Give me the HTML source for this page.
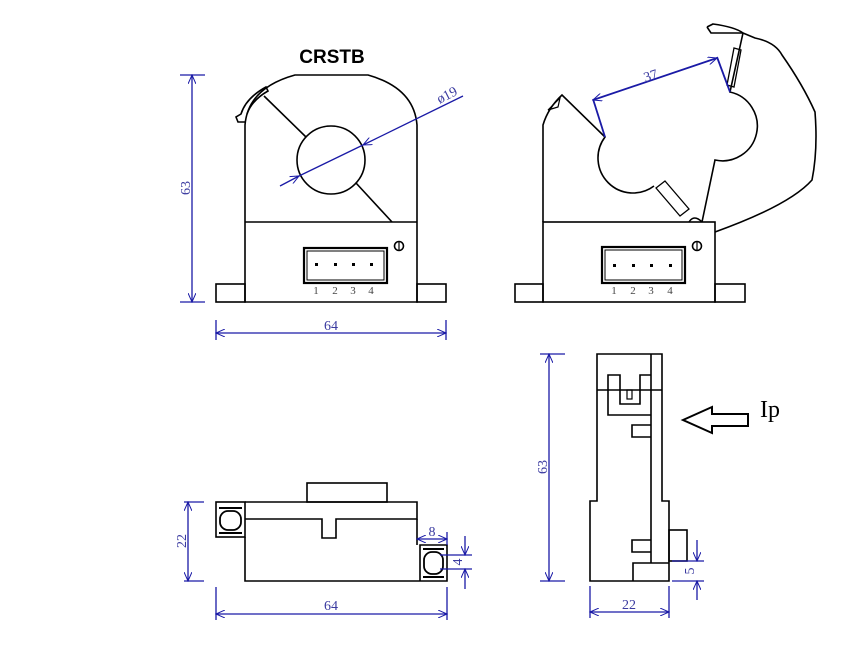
<!DOCTYPE html>
<html><head><meta charset="utf-8"><style>html,body{margin:0;padding:0;background:#fff}svg{display:block}</style></head><body>
<svg width="866" height="658" viewBox="0 0 866 658" xmlns="http://www.w3.org/2000/svg">
<defs>
<marker id="a" markerWidth="10" markerHeight="8" refX="9" refY="4" orient="auto-start-reverse" markerUnits="userSpaceOnUse"><path d="M0,0 L9,4 L0,8" fill="none" stroke="#1a1aa6" stroke-width="1"/></marker>
</defs>
<rect width="866" height="658" fill="#fff"/>
<text x="332" y="63" text-anchor="middle" font-family="Liberation Sans, sans-serif" font-weight="bold" font-size="19" fill="#000">CRSTB</text>

<g fill="none" stroke="#000" stroke-width="1.6">
<!-- front view -->
<path d="M245,302 L245,125 Q248,88 295,75 L368,75 Q414,88 417,125 L417,302 Z"/>
<line x1="245" y1="222" x2="417" y2="222"/>
<rect x="216" y="284" width="29" height="18"/>
<rect x="417" y="284" width="29" height="18"/>
<circle cx="331" cy="160" r="34"/>
<line x1="264" y1="96" x2="306" y2="137"/>
<line x1="356" y1="183" x2="392" y2="222"/>
<path d="M245,122 L238,122 L236,117 L241,114 Q246,98 266,87 L268,91 Q252,100 247,114"/>
<rect x="304" y="248" width="83" height="35" stroke-width="2.2"/>
<rect x="307" y="251" width="77" height="29" stroke-width="1"/>
<circle cx="399" cy="246" r="4.5"/><line x1="399" y1="241" x2="399" y2="251" stroke-width="1.2"/>

<!-- open view -->
<rect x="543" y="222" width="172" height="80"/>
<rect x="515" y="284" width="28" height="18"/>
<rect x="715" y="284" width="30" height="18"/>
<path d="M543,222 L543,125 Q548,108 562,95 L605,137 A35,35 0 0 0 654,186"/>
<path d="M656,188 L665,181 L689,209 L680,216 Z" stroke-width="1.3"/>
<path d="M689,222 Q694,214 702,222"/>
<path d="M702,222 L715,160 A34,34 0 1 0 730,92 L743,33"/>
<path d="M707,27 L713,24 Q735,27 743,33 L755,38 Q775,42 782,55 Q803,85 815,112 Q818,150 812,180 Q790,205 715,232"/>
<path d="M707,27 L711,33 L743,33"/>
<path d="M734,48 L741,50 L734,87 L727,85 Z" stroke-width="1.3"/>
<path d="M548,110 L560,98 L558,107 Z" stroke-width="1.2"/>
<rect x="602" y="247" width="83" height="36" stroke-width="2.2"/>
<rect x="605" y="250" width="77" height="30" stroke-width="1"/>
<circle cx="697" cy="246" r="4.5"/><line x1="697" y1="241" x2="697" y2="251" stroke-width="1.2"/>

<!-- bottom view -->
<rect x="307" y="483" width="80" height="19"/>
<rect x="216" y="502" width="29" height="35"/>
<path d="M245,502 L417,502 L417,519 L336,519 L336,538 L322,538 L322,519 L245,519"/>
<path d="M245,537 L245,581 L447,581 L447,545 L420,545 L420,581"/>
<line x1="417" y1="519" x2="417" y2="545"/>
<rect x="220" y="511" width="21" height="19" rx="8" stroke-width="1.8"/>
<rect x="424" y="552" width="19" height="22" rx="8" stroke-width="1.8"/>
<path d="M219,508 L242,508 M219,533 L242,533 M423,549 L444,549 M423,577 L444,577" stroke-width="2"/>

<!-- side view -->
<path d="M597,354 L662,354 L662,501 L669,501 L669,581 L590,581 L590,501 L597,501 Z"/>
<line x1="651" y1="354" x2="651" y2="563"/>
<line x1="597" y1="390" x2="662" y2="390"/>
<path d="M651,415 L608,415 L608,375 L620,375 L620,404 L640,404 L640,375 L651,375"/>
<rect x="627" y="390" width="5" height="9" stroke-width="1.2"/>
<path d="M651,425 L632,425 L632,437 L651,437"/>
<path d="M651,540 L632,540 L632,552 L651,552"/>
<path d="M633,581 L633,563 L669,563"/>
<rect x="669" y="530" width="18" height="31"/>
<path d="M683,420 L712,407 L712,414 L748,414 L748,426 L712,426 L712,433 Z" stroke-width="2"/>
</g>
<text x="760" y="417" font-family="Liberation Serif, serif" font-size="24" fill="#000">Ip</text>

<!-- connector numbers -->
<g font-family="Liberation Serif, serif" font-size="11" fill="#444" text-anchor="middle">
<text x="316" y="294">1</text><text x="335" y="294">2</text><text x="353" y="294">3</text><text x="371" y="294">4</text>
<text x="614" y="294">1</text><text x="633" y="294">2</text><text x="651" y="294">3</text><text x="670" y="294">4</text>
</g>
<g fill="#000">
<rect x="315" y="263" width="3" height="3"/><rect x="334" y="263" width="3" height="3"/><rect x="352" y="263" width="3" height="3"/><rect x="370" y="263" width="3" height="3"/>
<rect x="613" y="264" width="3" height="3"/><rect x="632" y="264" width="3" height="3"/><rect x="650" y="264" width="3" height="3"/><rect x="669" y="264" width="3" height="3"/>
</g>

<!-- dimensions -->
<g stroke="#1a1aa6" stroke-width="1.3" fill="none">
<line x1="180" y1="75" x2="205" y2="75"/><line x1="180" y1="302" x2="205" y2="302"/>
<line x1="192" y1="75" x2="192" y2="302" marker-start="url(#a)" marker-end="url(#a)"/>
<line x1="216" y1="320" x2="216" y2="340"/><line x1="446" y1="320" x2="446" y2="340"/>
<line x1="216" y1="333" x2="446" y2="333" marker-start="url(#a)" marker-end="url(#a)"/>
<line x1="463" y1="96" x2="363" y2="145" marker-end="url(#a)"/>
<line x1="280" y1="186" x2="299" y2="176" marker-end="url(#a)"/>
<line x1="299" y1="176" x2="363" y2="145"/>
<line x1="593" y1="100" x2="717" y2="58" marker-start="url(#a)" marker-end="url(#a)" stroke-width="1.8"/>
<line x1="593" y1="99" x2="605" y2="137" stroke-width="1.8"/>
<line x1="717" y1="57" x2="730" y2="92" stroke-width="1.8"/>
<line x1="184" y1="502" x2="204" y2="502"/><line x1="184" y1="581" x2="204" y2="581"/>
<line x1="188" y1="502" x2="188" y2="581" marker-start="url(#a)" marker-end="url(#a)"/>
<line x1="216" y1="587" x2="216" y2="620"/><line x1="447" y1="587" x2="447" y2="620"/>
<line x1="216" y1="614" x2="447" y2="614" marker-start="url(#a)" marker-end="url(#a)"/>
<line x1="447" y1="532" x2="447" y2="545"/>
<line x1="417" y1="539" x2="447" y2="539" marker-start="url(#a)" marker-end="url(#a)"/>
<line x1="440" y1="555" x2="472" y2="555"/><line x1="440" y1="569" x2="472" y2="569"/>
<line x1="465" y1="536" x2="465" y2="555" marker-end="url(#a)"/>
<line x1="465" y1="589" x2="465" y2="569" marker-end="url(#a)"/>
<line x1="540" y1="354" x2="565" y2="354"/><line x1="540" y1="581" x2="565" y2="581"/>
<line x1="549" y1="354" x2="549" y2="581" marker-start="url(#a)" marker-end="url(#a)"/>
<line x1="590" y1="586" x2="590" y2="618"/><line x1="669" y1="586" x2="669" y2="618"/>
<line x1="590" y1="612" x2="669" y2="612" marker-start="url(#a)" marker-end="url(#a)"/>
<line x1="672" y1="561" x2="704" y2="561"/><line x1="672" y1="581" x2="704" y2="581"/>
<line x1="697" y1="540" x2="697" y2="561" marker-end="url(#a)"/>
<line x1="697" y1="600" x2="697" y2="581" marker-end="url(#a)"/>
</g>
<g font-family="Liberation Serif, serif" font-size="14" fill="#3a3aa0" text-anchor="middle">
<text transform="translate(190,188) rotate(-90)">63</text>
<text x="331" y="330">64</text>
<text transform="translate(449,99) rotate(-27)">ø19</text>
<text transform="translate(652,80) rotate(-18)">37</text>
<text transform="translate(186,541) rotate(-90)">22</text>
<text x="331" y="610">64</text>
<text x="432" y="536">8</text>
<text transform="translate(462,562) rotate(-90)">4</text>
<text transform="translate(547,467) rotate(-90)">63</text>
<text x="629" y="609">22</text>
<text transform="translate(694,571) rotate(-90)">5</text>
</g>
</svg>
</body></html>
